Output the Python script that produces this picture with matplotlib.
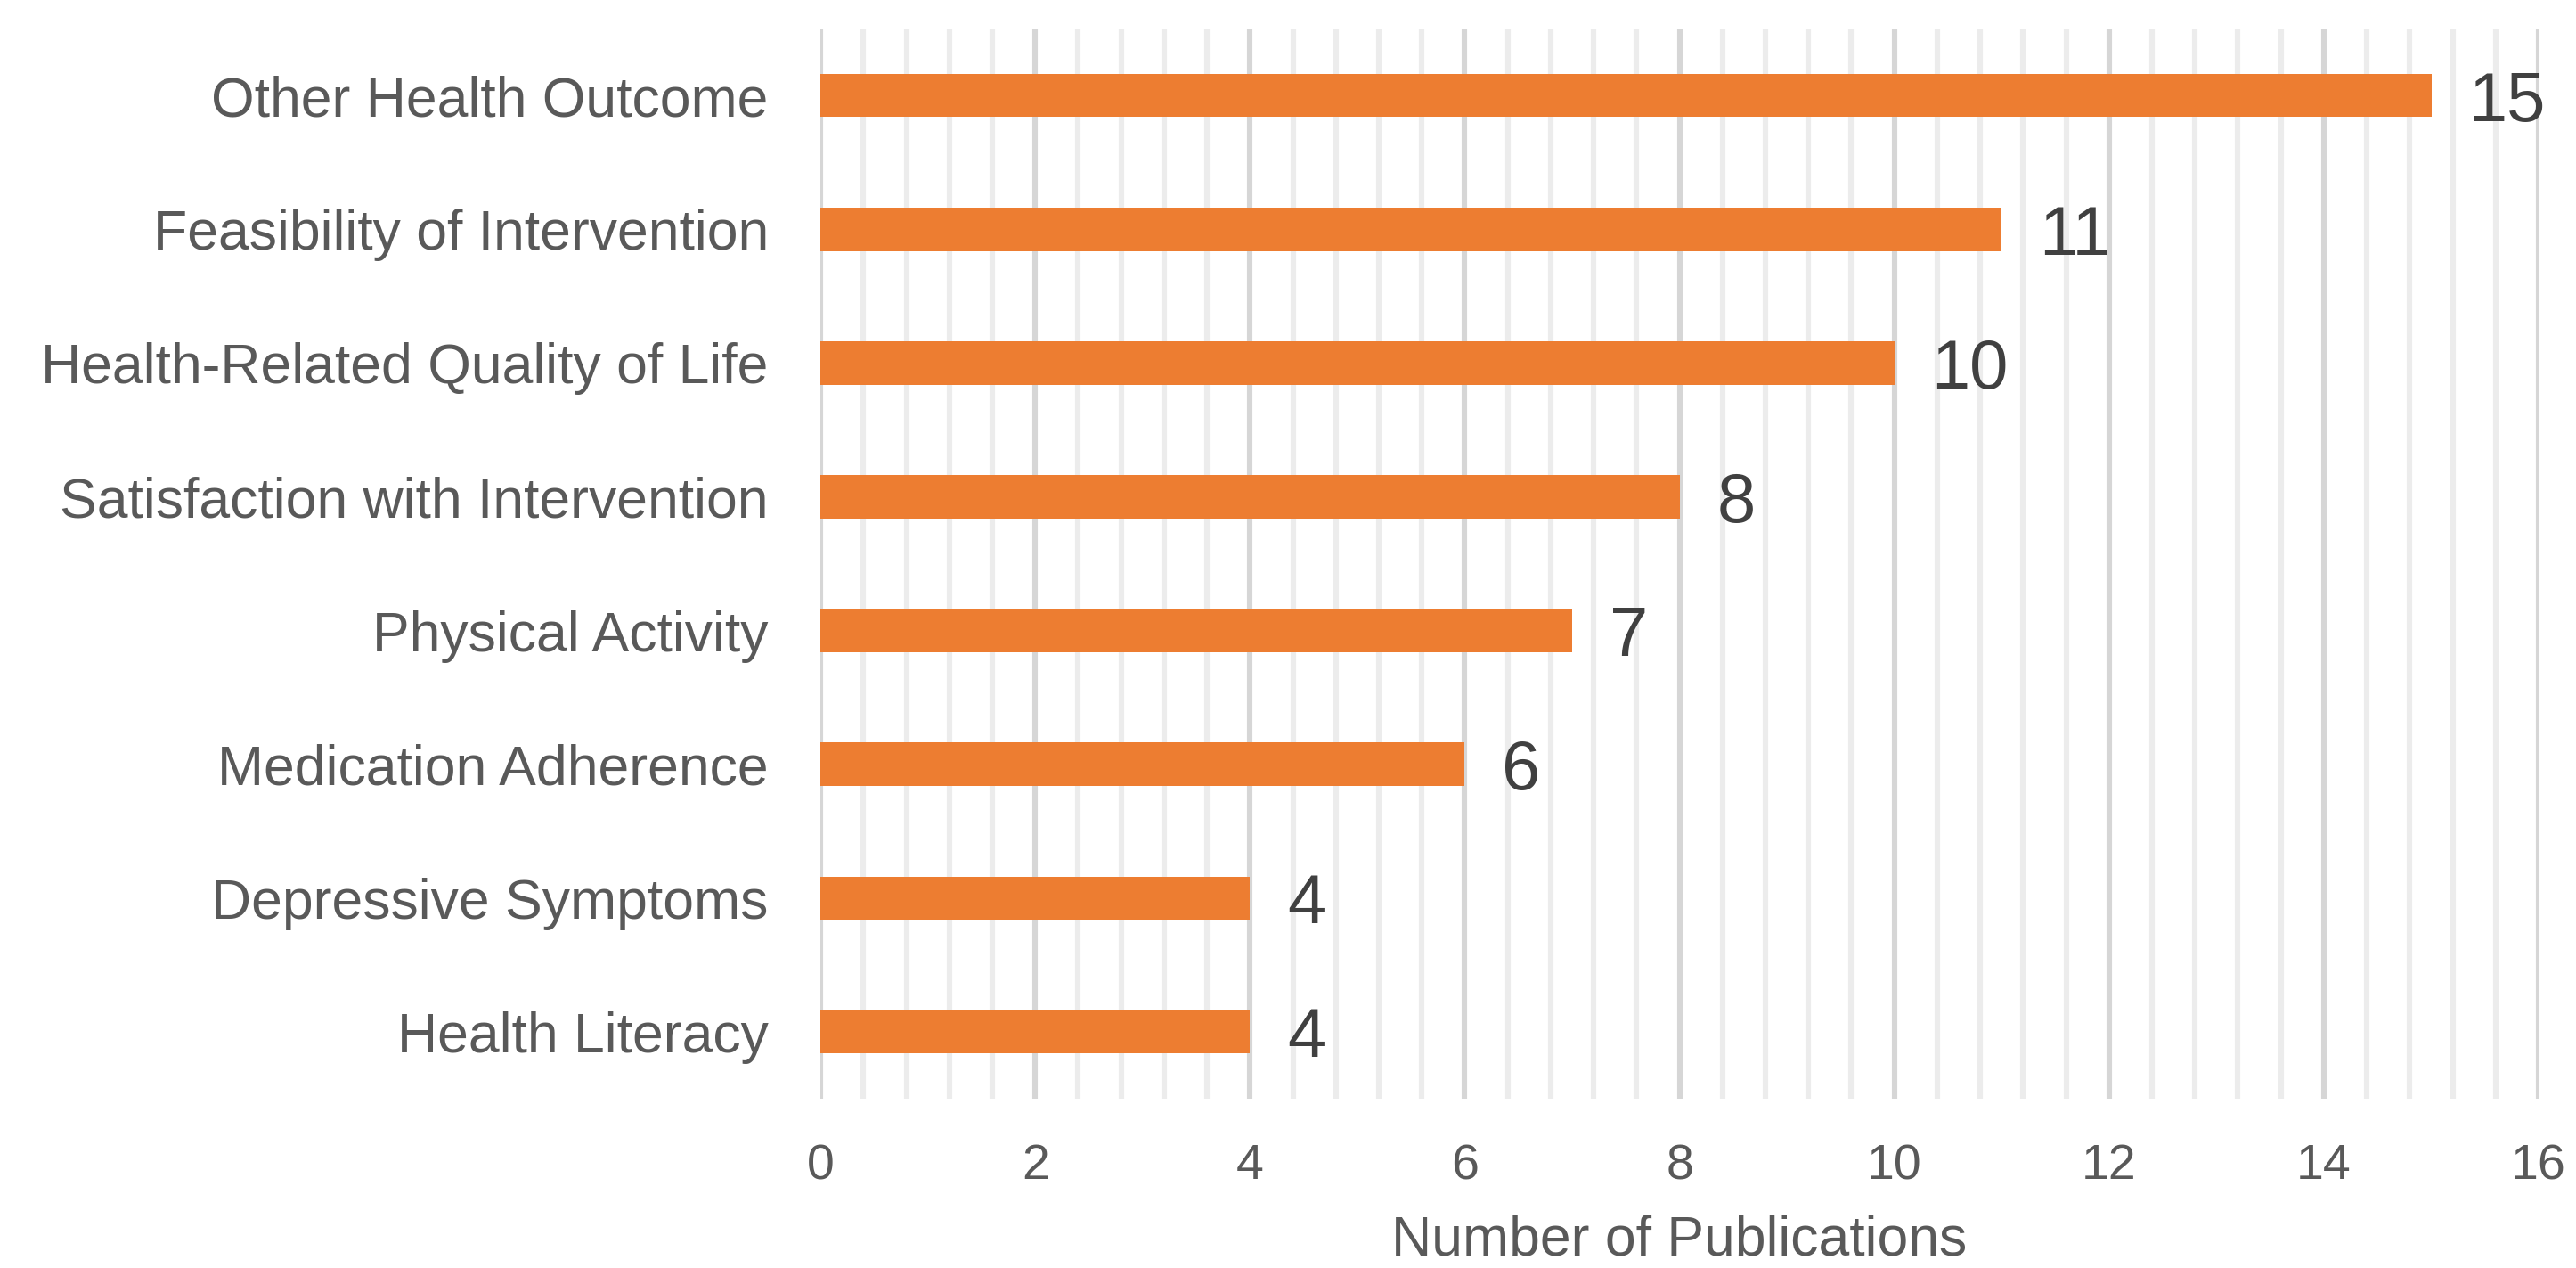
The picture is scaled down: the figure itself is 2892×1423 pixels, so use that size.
import matplotlib
matplotlib.use("Agg")
from matplotlib import pyplot as plt
from matplotlib.ticker import MultipleLocator
import numpy as np

# Data (top to bottom, as in the chart)
categories = [
    "Other Health Outcome",
    "Feasibility of Intervention",
    "Health-Related Quality of Life",
    "Satisfaction with Intervention",
    "Physical Activity",
    "Medication Adherence",
    "Depressive Symptoms",
    "Health Literacy",
]
publications = [15, 11, 10, 8, 7, 6, 4, 4]
x_ticks = [0, 2, 4, 6, 8, 10, 12, 14, 16]

bar_color = "#ED7D31"
label_grey = "#595959"

plt.rcParams["font.family"] = ["Liberation Sans", "DejaVu Sans"]

fig = plt.figure(figsize=(14.46, 7.115), dpi=200)
ax = fig.add_axes([0.3185, 0.1335, 0.667, 0.844])

y = np.arange(len(categories))
ax.barh(y, publications, height=0.324, color=bar_color, zorder=3)

# value labels
for yi, v in zip(y, publications):
    ax.annotate(str(v), xy=(v, yi), xytext=(15, 0), textcoords="offset points",
                va="center_baseline", ha="left", fontsize=28, color="#404040")

ax.set_xlim(0, 16)
ax.set_ylim(len(categories) - 0.5, -0.5)
ax.set_xticks(x_ticks)
ax.xaxis.set_minor_locator(MultipleLocator(0.4))
ax.set_yticks(y)
ax.set_yticklabels(categories)

ax.grid(axis="x", which="major", color="#d6d6d6", linewidth=2.2, zorder=0)
ax.grid(axis="x", which="minor", color="#ececec", linewidth=2.2, zorder=0)
ax.set_axisbelow(True)

for s in ax.spines.values():
    s.set_visible(False)

ax.tick_params(axis="x", which="both", length=0, pad=18, labelsize=20, labelcolor=label_grey)
ax.tick_params(axis="y", which="both", length=0, pad=21, labelsize=22.5, labelcolor=label_grey)

ax.set_xlabel("Number of Publications", fontsize=22.5, color=label_grey, labelpad=10)

fig.savefig("out.png", dpi=200)
